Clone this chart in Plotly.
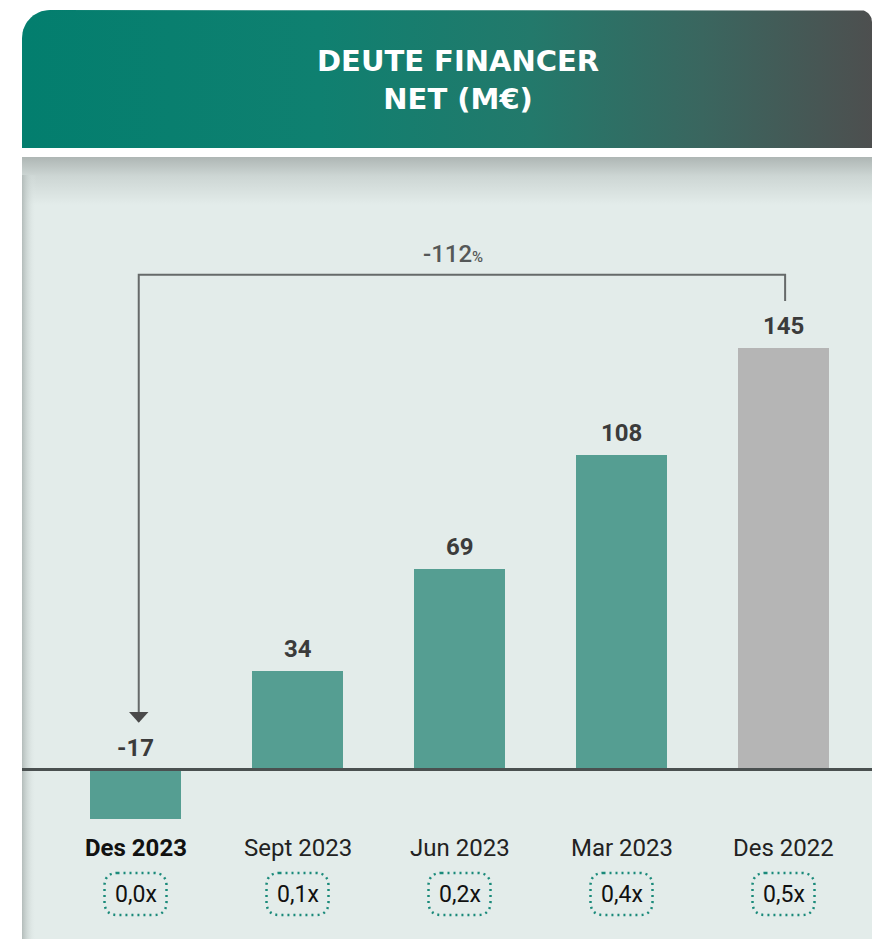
import numpy as np
import plotly.graph_objects as go

# ---- data ----
categories = ["Des 2023", "Sept 2023", "Jun 2023", "Mar 2023", "Des 2022"]
values = [-17, 34, 69, 108, 145]
ratios = ["0,0x", "0,1x", "0,2x", "0,4x", "0,5x"]
bar_colors = ["#559e92", "#559e92", "#559e92", "#559e92", "#b5b5b5"]
change_label = "-112"
title_text = "DEUTE FINANCER<br>NET (M€)"

SW, SH = 872, 939
BASE_PX = 769.5
PX_PER_UNIT = 2.91
X0_PX, DX_PX = 135.5, 162.0

fig = go.Figure()

def rounded_top_path(x0, x1, y0, y1, rl, rr, n=16):
    xs, ys = [], []
    t = np.linspace(np.pi, 1.5 * np.pi, n)
    xs += list(x0 + rl + rl * np.cos(t)); ys += list(y0 + rl + rl * np.sin(t))
    t = np.linspace(1.5 * np.pi, 2 * np.pi, n)
    xs += list(x1 - rr + rr * np.cos(t)); ys += list(y0 + rr + rr * np.sin(t))
    xs += [x1, x0]; ys += [y1, y1]
    xs.append(xs[0]); ys.append(ys[0])
    return xs, ys

hx, hy = rounded_top_path(22, 872, 10, 148, 28, 12)
fig.add_trace(go.Scatter(
    x=hx, y=hy, mode="lines", fill="toself", line=dict(width=0),
    fillgradient=dict(type="horizontal", start=22, stop=872,
                      colorscale=[[0, "#037e6e"], [0.35, "#0f8070"], [0.6, "#23796b"],
                                  [0.8, "#3a665f"], [1, "#4d4f4f"]]),
    hoverinfo="skip", showlegend=False, xaxis="x", yaxis="y"))

fig.add_trace(go.Scatter(
    x=[22, 872, 872, 22, 22], y=[157, 157, SH, SH, 157], mode="lines", fill="toself",
    line=dict(width=0), fillcolor="#e3ecea", hoverinfo="skip", showlegend=False,
    xaxis="x", yaxis="y"))
fig.add_trace(go.Scatter(
    x=[22, 872, 872, 22, 22], y=[157, 157, 205, 205, 157], mode="lines", fill="toself",
    line=dict(width=0),
    fillgradient=dict(type="vertical", start=157, stop=205,
                      colorscale=[[0, "#aeb6b4"], [0.4, "#cdd6d4"], [1, "#e3ecea"]]),
    hoverinfo="skip", showlegend=False, xaxis="x", yaxis="y"))
fig.add_trace(go.Scatter(
    x=[22, 36, 36, 22, 22], y=[175, 175, SH, SH, 175], mode="lines", fill="toself",
    line=dict(width=0),
    fillgradient=dict(type="horizontal", start=22, stop=36,
                      colorscale=[[0, "#b3bcba"], [1, "rgba(227,236,234,0)"]]),
    hoverinfo="skip", showlegend=False, xaxis="x", yaxis="y"))

# ---- bars on data axes (x2, y2) ----
xi = list(range(len(categories)))
fig.add_trace(go.Bar(
    x=xi, y=values, marker=dict(color=bar_colors, line=dict(width=0)),
    width=0.56, xaxis="x2", yaxis="y2", hoverinfo="skip", showlegend=False))

x2_range = [-X0_PX / DX_PX, (SW - X0_PX) / DX_PX]
y2_range = [-(SH - BASE_PX) / PX_PER_UNIT, BASE_PX / PX_PER_UNIT]

shapes = []
shapes.append(dict(type="line", xref="x", yref="y2", x0=22, x1=872, y0=0, y1=0,
                   line=dict(color="#4a5050", width=3), layer="above"))

top_v = 170
shapes.append(dict(type="path", xref="x2", yref="y2",
                   path=f"M 0.02,16.5 L 0.02,{top_v} L 4.01,{top_v} L 4.01,161",
                   line=dict(color="#666a6a", width=2)))
shapes.append(dict(type="path", xref="x2", yref="y2",
                   path="M -0.04,19.8 L 0.08,19.8 L 0.02,16.1 Z",
                   fillcolor="#4a4a4a", line=dict(width=0)))

annotations = []
for i, v in enumerate(values):
    annotations.append(dict(x=i, y=max(v, 0), xref="x2", yref="y2", text=str(v),
                            showarrow=False, yshift=22, yanchor="middle",
                            font=dict(family="Roboto", size=24, color="#3b3b3b", weight="bold")))
annotations.append(dict(x=1.96, y=top_v, xref="x2", yref="y2",
                        text=f"{change_label}<span style='font-size:15px'>%</span>",
                        showarrow=False, yshift=21, yanchor="middle",
                        font=dict(family="Roboto", size=24, color="#555858", weight=500)))

for i, (c, r) in enumerate(zip(categories, ratios)):
    annotations.append(dict(x=i, y=848, xref="x2", yref="y", text=c, showarrow=False,
                            yanchor="middle",
                            font=dict(family="Roboto", size=24,
                                      color="#111111" if i == 0 else "#222222",
                                      weight="bold" if i == 0 else "normal")))
    annotations.append(dict(x=i, y=894, xref="x2", yref="y", text=r, showarrow=False,
                            yanchor="middle",
                            font=dict(family="Roboto", size=23, color="#111111")))
    hw = 31 / DX_PX
    rr = 13 / DX_PX
    xa, xb = i - hw, i + hw
    ya, yb = 873, 915
    p = (f"M {xa + rr},{ya} L {xb - rr},{ya} Q {xb},{ya} {xb},{ya + 13} "
         f"L {xb},{yb - 13} Q {xb},{yb} {xb - rr},{yb} L {xa + rr},{yb} "
         f"Q {xa},{yb} {xa},{yb - 13} L {xa},{ya + 13} Q {xa},{ya} {xa + rr},{ya} Z")
    shapes.append(dict(type="path", xref="x2", yref="y", path=p,
                       line=dict(color="#1a8a7a", width=2.5, dash="2px,4px")))

annotations.append(dict(x=458, y=80, xref="x", yref="y", text=title_text, showarrow=False,
                        yanchor="middle", align="center",
                        font=dict(family="DejaVu Sans", size=29, color="white", weight="bold")))

fig.update_layout(
    width=SW, height=SH, margin=dict(l=0, r=0, t=0, b=0),
    paper_bgcolor="white", plot_bgcolor="rgba(0,0,0,0)",
    xaxis=dict(range=[0, SW], visible=False, fixedrange=True),
    yaxis=dict(range=[SH, 0], visible=False, fixedrange=True),
    xaxis2=dict(range=x2_range, visible=False, overlaying="x", fixedrange=True),
    yaxis2=dict(range=y2_range, visible=False, overlaying="y", fixedrange=True),
    shapes=shapes, annotations=annotations, bargap=0,
)

fig.write_html(
    "out.html", config={"displayModeBar": False},
    post_script="document.body.style.margin='0';document.body.style.overflow='hidden';"
                "document.documentElement.style.overflow='hidden';")
